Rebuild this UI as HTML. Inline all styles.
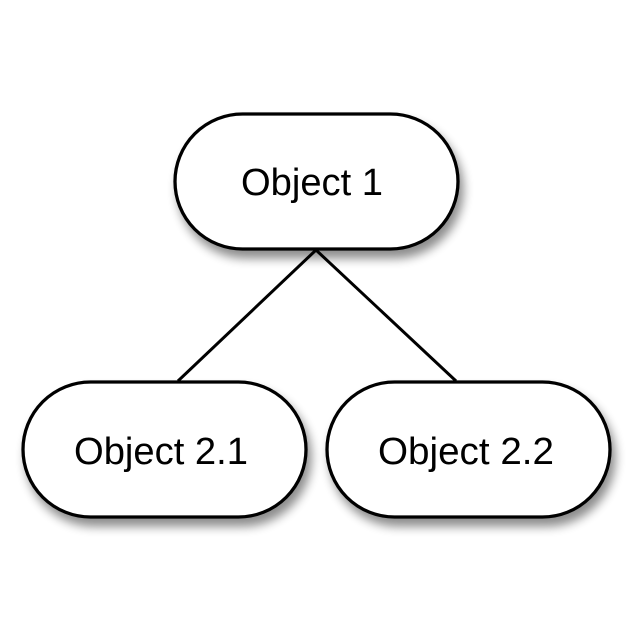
<!DOCTYPE html>
<html><head><style>html,body{margin:0;padding:0;background:#fff;width:632px;height:632px;overflow:hidden}</style></head>
<body>
<svg width="632" height="632" viewBox="0 0 632 632" xmlns="http://www.w3.org/2000/svg">
<defs><filter id="s" x="-20%" y="-20%" width="150%" height="160%"><feGaussianBlur in="SourceAlpha" stdDeviation="5"/><feOffset dx="4" dy="8"/><feComponentTransfer><feFuncA type="linear" slope="0.45"/></feComponentTransfer><feMerge><feMergeNode/><feMergeNode in="SourceGraphic"/></feMerge></filter></defs>
<g stroke="#000" stroke-width="3" fill="none">
<line x1="316" y1="250" x2="178" y2="381"/>
<line x1="316" y1="250" x2="456" y2="381"/>
</g>
<g stroke="#000" stroke-width="3.3" fill="#fff" filter="url(#s)">
<rect x="175" y="114" width="283" height="135" rx="67.5"/>
<rect x="23" y="382" width="283" height="135" rx="67.5"/>
<rect x="327" y="382" width="283" height="135" rx="67.5"/>
</g>
<g font-family="'Liberation Sans', sans-serif" font-size="38" text-anchor="middle" fill="#000">
<text x="312" y="195" textLength="142" lengthAdjust="spacingAndGlyphs">Object 1</text>
<text x="161" y="464" textLength="174" lengthAdjust="spacingAndGlyphs">Object 2.1</text>
<text x="466" y="464" textLength="176" lengthAdjust="spacingAndGlyphs">Object 2.2</text>
</g>
</svg>
</body></html>
